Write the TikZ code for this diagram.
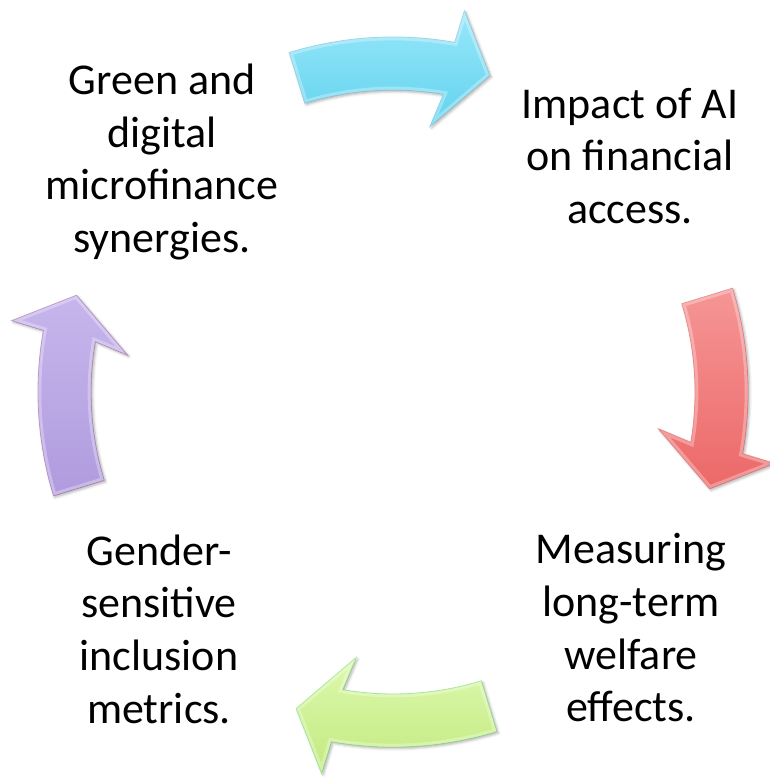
\documentclass[tikz,border=0pt]{standalone}
\usepackage{fontspec}
\setmainfont{Carlito}
\usepackage{tikz}
\usetikzlibrary{shadows.blur}

% one block arrow of the cycle, drawn around the origin
\newcommand{\cycleshape}{(-107:355) arc[start angle=-107,end angle=-80,radius=355] -- (-79.4:388) -- (-73:331) -- (-82.1:268) -- (-80.4:302) arc[start angle=-80.4,end angle=-107,radius=302] -- cycle}

\begin{document}
\begin{tikzpicture}[x=0.75pt,y=0.75pt,yscale=-1,xscale=1,
  cycletext/.style={align=center,inner sep=0.75pt,font=\fontsize{33}{39.5}\selectfont},
  cyclearrow/.style={draw=#1!80!black,draw opacity=0.35,line width=0.6pt,
    blur shadow={shadow xshift=1.2pt,shadow yshift=-1.2pt,shadow opacity=30}},
  gloss/.style={white,opacity=0.3,line width=5pt}]
\useasboundingbox (0,0) rectangle (769,778);

%Shape: Arrow, top
\begin{scope}[shift={(393,392)}]
\draw [cyclearrow=cyan,top color={rgb,255:red,152;green,232;blue,250},bottom color={rgb,255:red,98;green,210;blue,238}] \cycleshape ;
\begin{scope} \clip \cycleshape ; \draw [gloss] \cycleshape ; \end{scope}
\end{scope}
%Shape: Arrow, right
\begin{scope}[shift={(393,392)},rotate=90]
\draw [cyclearrow=red,top color={rgb,255:red,246;green,150;blue,150},bottom color={rgb,255:red,236;green,104;blue,104}] \cycleshape ;
\begin{scope} \clip \cycleshape ; \draw [gloss] \cycleshape ; \end{scope}
\end{scope}
%Shape: Arrow, bottom
\begin{scope}[shift={(393,392)},rotate=180]
\draw [cyclearrow=green,top color={rgb,255:red,222;green,248;blue,174},bottom color={rgb,255:red,194;green,234;blue,128}] \cycleshape ;
\begin{scope} \clip \cycleshape ; \draw [gloss] \cycleshape ; \end{scope}
\end{scope}
%Shape: Arrow, left
\begin{scope}[shift={(393,392)},rotate=270]
\draw [cyclearrow=violet,top color={rgb,255:red,198;green,182;blue,236},bottom color={rgb,255:red,176;green,155;blue,222}] \cycleshape ;
\begin{scope} \clip \cycleshape ; \draw [gloss] \cycleshape ; \end{scope}
\end{scope}

% Text Node
\node (green) at (162,162) [cycletext] {Green and\\digital\\microfinance\\synergies.};
% Text Node
\node (impact) at (630,156) [cycletext] {Impact of AI\\on financial\\access.};
% Text Node
\node (welfare) at (631,628) [cycletext] {Measuring\\long-term\\welfare\\effects.};
% Text Node
\node (gender) at (159,629) [cycletext] {Gender-\\sensitive\\inclusion\\metrics.};

\end{tikzpicture}
\end{document}
